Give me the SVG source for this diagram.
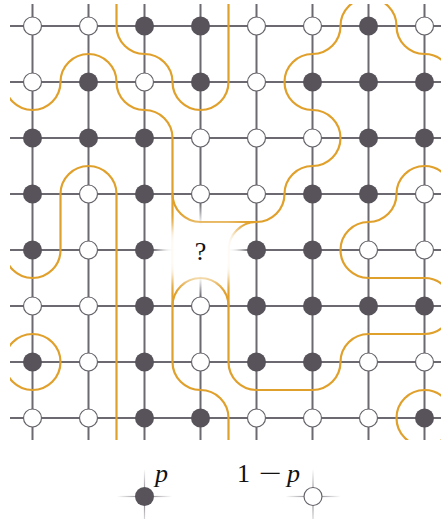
<svg xmlns="http://www.w3.org/2000/svg" width="441" height="519" viewBox="0 0 441 519">
<style>
.g{stroke:#6c6970;stroke-width:2;fill:none}
.c{stroke:#e0a02c;stroke-width:2.2;fill:none}
.d{fill:#58535b}
.w{fill:#fff;stroke:#66636a;stroke-width:1.2}
.t{font-family:"Liberation Serif","Times New Roman",serif;font-size:26px;fill:#111}
.i{font-style:italic}
</style>
<defs>
<clipPath id="clip"><rect x="10" y="4" width="431" height="436"/></clipPath>
<filter id="blur" filterUnits="userSpaceOnUse" x="120" y="180" width="160" height="140"><feGaussianBlur stdDeviation="7"/></filter>
<linearGradient id="fr" x1="0" y1="0" x2="1" y2="0"><stop offset="0" stop-color="#6c6970"/><stop offset="1" stop-color="#6c6970" stop-opacity="0"/></linearGradient>
<linearGradient id="fl" x1="0" y1="0" x2="1" y2="0"><stop offset="0" stop-color="#6c6970" stop-opacity="0"/><stop offset="1" stop-color="#6c6970"/></linearGradient>
<linearGradient id="fd" x1="0" y1="0" x2="0" y2="1"><stop offset="0" stop-color="#6c6970"/><stop offset="1" stop-color="#6c6970" stop-opacity="0"/></linearGradient>
<linearGradient id="fu" x1="0" y1="0" x2="0" y2="1"><stop offset="0" stop-color="#6c6970" stop-opacity="0"/><stop offset="1" stop-color="#6c6970"/></linearGradient>
<linearGradient id="sh" x1="0" y1="0" x2="1" y2="0"><stop offset="0" stop-color="#77737a" stop-opacity="0"/><stop offset="0.5" stop-color="#77737a"/><stop offset="1" stop-color="#77737a" stop-opacity="0"/></linearGradient>
<linearGradient id="sv" x1="0" y1="0" x2="0" y2="1"><stop offset="0" stop-color="#77737a" stop-opacity="0"/><stop offset="0.5" stop-color="#77737a"/><stop offset="1" stop-color="#77737a" stop-opacity="0.15"/></linearGradient>
</defs>
<g id="grid">
<path class="g" d="M32.5 4V440M88.5 4V440M144.5 4V440M256.5 4V440M312.5 4V440M368.5 4V440M424.5 4V440M200.5 4V203M200.5 297V440M10 26H441M10 82H441M10 138H441M10 194H441M10 306H441M10 362H441M10 418H441M10 250H154M247 250H441"/>
<rect x="154" y="249" width="24" height="2" fill="url(#fr)"/>
<rect x="223" y="249" width="24" height="2" fill="url(#fl)"/>
<rect x="199.5" y="203" width="2" height="22" fill="url(#fd)"/>
<rect x="199.5" y="275" width="2" height="22" fill="url(#fu)"/>
</g>
<g id="connectors" clip-path="url(#clip)">
<path class="c" d="M4.5 82A28 28 0 0 0 60.5 82A28 28 0 0 1 116.5 82A28 28 0 0 0 144.5 110A28 28 0 0 1 172.5 138L172.5 194A28 28 0 0 0 200.5 222L256.5 222A28 28 0 0 0 284.5 194A28 28 0 0 1 312.5 166A28 28 0 0 0 312.5 110A28 28 0 0 1 312.5 54A28 28 0 0 0 340.5 26A28 28 0 0 1 368.5 -2A28 28 0 0 1 396.5 26A28 28 0 0 0 424.5 54A28 28 0 0 1 452.5 82"/>
<path class="c" d="M116.5 -2L116.5 26A28 28 0 0 0 144.5 54A28 28 0 0 1 172.5 82A28 28 0 0 0 228.5 82L228.5 -2"/>
<path class="c" d="M4.5 250A28 28 0 0 0 60.5 250L60.5 194A28 28 0 0 1 116.5 194L116.5 446"/>
<path class="c" d="M452.5 194A28 28 0 0 0 396.5 194A28 28 0 0 1 368.5 222A28 28 0 0 0 368.5 278L424.5 278A28 28 0 0 1 424.5 334L368.5 334A28 28 0 0 0 340.5 362A28 28 0 0 1 312.5 390L256.5 390A28 28 0 0 1 228.5 362L228.5 306A28 28 0 0 0 172.5 306L172.5 362A28 28 0 0 0 200.5 390A28 28 0 0 1 228.5 418L228.5 446"/>
<path class="c" d="M172.5 194L172.5 306M256.5 222A28 28 0 0 0 228.5 250L228.5 306"/>
<circle class="c" cx="32.5" cy="362" r="28"/>
<circle class="c" cx="424.5" cy="418" r="28"/>
</g>
<rect x="162" y="226" width="78" height="54" rx="8" fill="#fff" filter="url(#blur)"/>
<text class="t" x="200.5" y="260" text-anchor="middle">?</text>
<g id="nodes">
<g id="n00"><circle class="w" cx="32.5" cy="26" r="9"/></g>
<g id="n01"><circle class="w" cx="88.5" cy="26" r="9"/></g>
<g id="n02"><circle class="d" cx="144.5" cy="26" r="9.5"/></g>
<g id="n03"><circle class="d" cx="200.5" cy="26" r="9.5"/></g>
<g id="n04"><circle class="w" cx="256.5" cy="26" r="9"/></g>
<g id="n05"><circle class="w" cx="312.5" cy="26" r="9"/></g>
<g id="n06"><circle class="d" cx="368.5" cy="26" r="9.5"/></g>
<g id="n07"><circle class="w" cx="424.5" cy="26" r="9"/></g>
<g id="n10"><circle class="w" cx="32.5" cy="82" r="9"/></g>
<g id="n11"><circle class="d" cx="88.5" cy="82" r="9.5"/></g>
<g id="n12"><circle class="w" cx="144.5" cy="82" r="9"/></g>
<g id="n13"><circle class="d" cx="200.5" cy="82" r="9.5"/></g>
<g id="n14"><circle class="w" cx="256.5" cy="82" r="9"/></g>
<g id="n15"><circle class="d" cx="312.5" cy="82" r="9.5"/></g>
<g id="n16"><circle class="d" cx="368.5" cy="82" r="9.5"/></g>
<g id="n17"><circle class="d" cx="424.5" cy="82" r="9.5"/></g>
<g id="n20"><circle class="d" cx="32.5" cy="138" r="9.5"/></g>
<g id="n21"><circle class="d" cx="88.5" cy="138" r="9.5"/></g>
<g id="n22"><circle class="d" cx="144.5" cy="138" r="9.5"/></g>
<g id="n23"><circle class="w" cx="200.5" cy="138" r="9"/></g>
<g id="n24"><circle class="w" cx="256.5" cy="138" r="9"/></g>
<g id="n25"><circle class="w" cx="312.5" cy="138" r="9"/></g>
<g id="n26"><circle class="d" cx="368.5" cy="138" r="9.5"/></g>
<g id="n27"><circle class="d" cx="424.5" cy="138" r="9.5"/></g>
<g id="n30"><circle class="d" cx="32.5" cy="194" r="9.5"/></g>
<g id="n31"><circle class="w" cx="88.5" cy="194" r="9"/></g>
<g id="n32"><circle class="d" cx="144.5" cy="194" r="9.5"/></g>
<g id="n33"><circle class="w" cx="200.5" cy="194" r="9"/></g>
<g id="n34"><circle class="w" cx="256.5" cy="194" r="9"/></g>
<g id="n35"><circle class="d" cx="312.5" cy="194" r="9.5"/></g>
<g id="n36"><circle class="d" cx="368.5" cy="194" r="9.5"/></g>
<g id="n37"><circle class="w" cx="424.5" cy="194" r="9"/></g>
<g id="n40"><circle class="d" cx="32.5" cy="250" r="9.5"/></g>
<g id="n41"><circle class="w" cx="88.5" cy="250" r="9"/></g>
<g id="n42"><circle class="d" cx="144.5" cy="250" r="9.5"/></g>
<g id="n44"><circle class="d" cx="256.5" cy="250" r="9.5"/></g>
<g id="n45"><circle class="d" cx="312.5" cy="250" r="9.5"/></g>
<g id="n46"><circle class="w" cx="368.5" cy="250" r="9"/></g>
<g id="n47"><circle class="w" cx="424.5" cy="250" r="9"/></g>
<g id="n50"><circle class="w" cx="32.5" cy="306" r="9"/></g>
<g id="n51"><circle class="w" cx="88.5" cy="306" r="9"/></g>
<g id="n52"><circle class="d" cx="144.5" cy="306" r="9.5"/></g>
<g id="n53"><circle class="w" cx="200.5" cy="306" r="9"/></g>
<g id="n54"><circle class="d" cx="256.5" cy="306" r="9.5"/></g>
<g id="n55"><circle class="d" cx="312.5" cy="306" r="9.5"/></g>
<g id="n56"><circle class="d" cx="368.5" cy="306" r="9.5"/></g>
<g id="n57"><circle class="d" cx="424.5" cy="306" r="9.5"/></g>
<g id="n60"><circle class="d" cx="32.5" cy="362" r="9.5"/></g>
<g id="n61"><circle class="w" cx="88.5" cy="362" r="9"/></g>
<g id="n62"><circle class="d" cx="144.5" cy="362" r="9.5"/></g>
<g id="n63"><circle class="w" cx="200.5" cy="362" r="9"/></g>
<g id="n64"><circle class="d" cx="256.5" cy="362" r="9.5"/></g>
<g id="n65"><circle class="d" cx="312.5" cy="362" r="9.5"/></g>
<g id="n66"><circle class="w" cx="368.5" cy="362" r="9"/></g>
<g id="n67"><circle class="w" cx="424.5" cy="362" r="9"/></g>
<g id="n70"><circle class="w" cx="32.5" cy="418" r="9"/></g>
<g id="n71"><circle class="w" cx="88.5" cy="418" r="9"/></g>
<g id="n72"><circle class="d" cx="144.5" cy="418" r="9.5"/></g>
<g id="n73"><circle class="d" cx="200.5" cy="418" r="9.5"/></g>
<g id="n74"><circle class="w" cx="256.5" cy="418" r="9"/></g>
<g id="n75"><circle class="w" cx="312.5" cy="418" r="9"/></g>
<g id="n76"><circle class="w" cx="368.5" cy="418" r="9"/></g>
<g id="n77"><circle class="d" cx="424.5" cy="418" r="9.5"/></g>
</g>
<g id="legend-p">
<rect x="117" y="495.9" width="55" height="1.2" fill="url(#sh)"/>
<rect x="143.9" y="469" width="1.2" height="55" fill="url(#sv)"/>
<circle class="d" cx="144.5" cy="496.5" r="9.5"/>
<text class="t i" x="155" y="482">p</text>
</g>
<g id="legend-1mp">
<rect x="285.5" y="495.9" width="55" height="1.2" fill="url(#sh)"/>
<rect x="312.4" y="469" width="1.2" height="55" fill="url(#sv)"/>
<circle class="w" cx="313" cy="496.5" r="9"/>
<text class="t" x="237" y="482">1</text>
<text class="t" x="259" y="482" textLength="23" lengthAdjust="spacingAndGlyphs">−</text>
<text class="t i" x="287" y="482">p</text>
</g>
</svg>
